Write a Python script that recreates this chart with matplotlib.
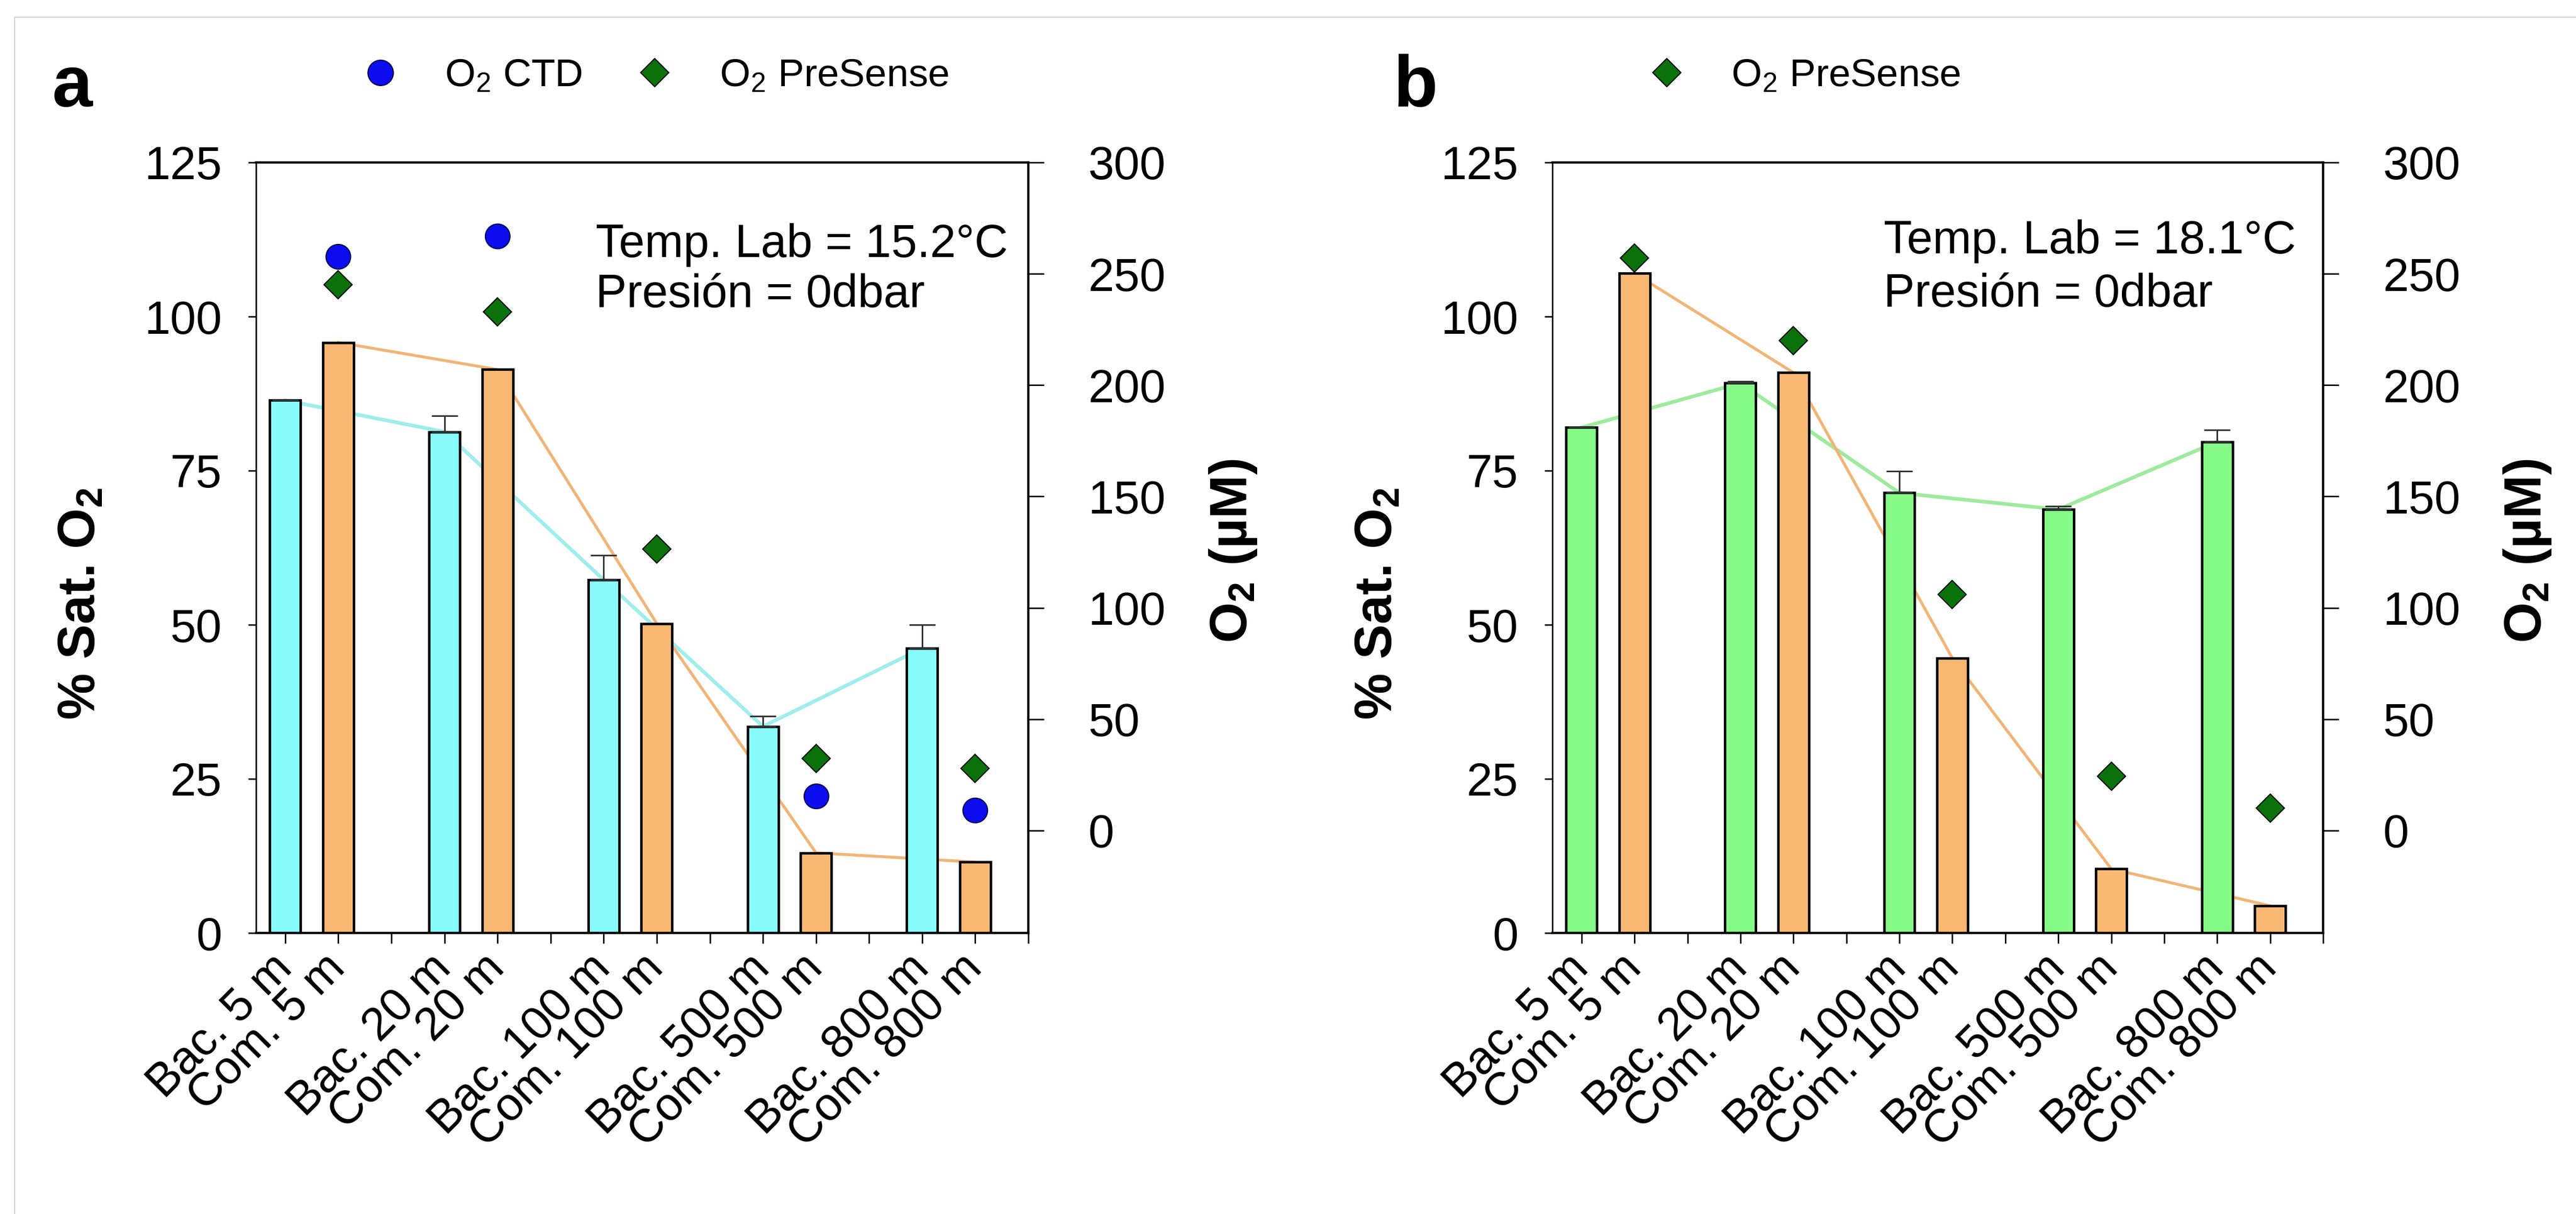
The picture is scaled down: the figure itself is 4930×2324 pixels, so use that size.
import numpy as np
import matplotlib
matplotlib.use('Agg')
import matplotlib.pyplot as plt
from matplotlib.lines import Line2D

plt.rcParams['font.family'] = ['Liberation Sans', 'DejaVu Sans']
plt.rcParams['mathtext.fontset'] = 'custom'
plt.rcParams['mathtext.rm'] = 'Liberation Sans'
plt.rcParams['mathtext.bf'] = 'Liberation Sans:bold'
plt.rcParams['mathtext.default'] = 'regular'

# ---------------- data ----------------
depths = ['5 m', '20 m', '100 m', '500 m', '800 m']
bac_labels = ['Bac. ' + d for d in depths]
com_labels = ['Com. ' + d for d in depths]

# panel a (% saturation, left axis)
a_bac = [86.4, 81.3, 57.3, 33.5, 46.2]
a_bac_err = [0.0, 2.6, 4.0, 1.7, 3.8]
a_com = [95.8, 91.4, 50.2, 13.0, 11.5]
# panel a oxygen (uM, right axis)
a_ctd = [257.7, 267.0, np.nan, 15.5, 9.1]
a_presense = [245.0, 233.0, 126.4, 32.3, 28.0]

# panel b
b_bac = [82.0, 89.2, 71.4, 68.7, 79.7]
b_bac_err = [0.0, 0.3, 3.5, 0.5, 1.9]
b_com = [107.0, 90.9, 44.6, 10.4, 4.4]
b_presense = [257.0, 220.0, 106.0, 24.4, 10.0]

temp_a = ['Temp. Lab = 15.2°C', 'Presión = 0dbar']
temp_b = ['Temp. Lab = 18.1°C', 'Presión = 0dbar']

left_ticks = [0, 25, 50, 75, 100, 125]
right_ticks = [0, 50, 100, 150, 200, 250, 300]

# ---------------- style ----------------
CYAN = '#88FCFC'
CYAN_LINE = '#9FEDED'
ORANGE = '#F8B872'
ORANGE_LINE = '#F2B476'
GREEN = '#86FA86'
GREEN_LINE = '#9DEB9D'
BLUE = '#0C0CEE'
DGREEN = '#0B720B'

W, H = 4930, 2324
fig = plt.figure(figsize=(W / 100, H / 100), dpi=100)

TICK_FS = 64
LABEL_FS = 72


def draw_panel(rect, bac, bac_err, com, bac_fc, bac_lc, texts, text_x, text_y,
               presense, ctd=None):
    ax = fig.add_axes(rect)
    n = len(bac)
    xb = np.arange(n) * 3
    xc = xb + 1

    ax.plot(xb, bac, color=bac_lc, lw=5.0, zorder=1)
    ax.plot(xc, com, color=ORANGE_LINE, lw=4.0, zorder=1)
    ax.bar(xb, bac, width=0.58, color=bac_fc, edgecolor='black', linewidth=3.4, zorder=2)
    ax.bar(xc, com, width=0.58, color=ORANGE, edgecolor='black', linewidth=3.4, zorder=2)
    ax.errorbar(xb, bac, yerr=[np.zeros(n), bac_err], fmt='none', ecolor='#333333',
                elinewidth=2.2, capsize=18, capthick=2.2, zorder=3)

    ax.set_xlim(-0.55, 14)
    ax.set_ylim(0, 125)
    ax.set_yticks(left_ticks)
    ax.set_xticks(np.arange(0, 15))
    labels = []
    for k in range(15):
        g, r = divmod(k, 3)
        if g < n and r == 0:
            labels.append(bac_labels[g])
        elif g < n and r == 1:
            labels.append(com_labels[g])
        else:
            labels.append('')
    ax.set_xticklabels(labels)
    for lab in ax.get_xticklabels():
        lab.set_rotation(45)
        lab.set_ha('right')
        lab.set_va('center')
        lab.set_rotation_mode('anchor')

    ax.tick_params(axis='y', direction='out', length=11, width=2.0, pad=36,
                   labelsize=TICK_FS)
    ax.tick_params(axis='x', direction='out', length=14.4, width=2.0, pad=25,
                   labelsize=TICK_FS)
    ax.spines['top'].set_linewidth(3.2)
    ax.spines['bottom'].set_linewidth(3.2)
    ax.spines['left'].set_linewidth(2.0)
    ax.spines['right'].set_visible(False)

    ax.text(text_x, text_y[0], texts[0], transform=ax.transAxes, fontsize=TICK_FS,
            va='baseline', ha='left')
    ax.text(text_x, text_y[1], texts[1], transform=ax.transAxes, fontsize=TICK_FS,
            va='baseline', ha='left')

    ax.text(-0.2267, 0.4275, '% Sat. O$_2$', transform=ax.transAxes, rotation=90,
            fontsize=LABEL_FS, fontweight='bold', ha='center', va='center')

    ax2 = ax.twinx()
    ax2.set_ylim(-46, 300)
    ax2.set_yticks(right_ticks)
    for s in ['top', 'bottom', 'left']:
        ax2.spines[s].set_visible(False)
    ax2.spines['right'].set_linewidth(3.2)
    ax2.tick_params(axis='y', direction='out', length=21.6, width=2.0, pad=61,
                    labelsize=TICK_FS)
    if ctd is not None:
        ax2.plot(xc, ctd, 'o', ls='none', ms=34, mfc=BLUE, mec='#000040', mew=1.5,
                 zorder=4)
    ax2.plot(xc, presense, 'D', ls='none', ms=28, mfc=DGREEN, mec='black', mew=1.5,
             zorder=4)
    ax2.text(1.265, 0.496, 'O$_2$ (µM)', transform=ax.transAxes, rotation=90,
             fontsize=LABEL_FS, fontweight='bold', ha='center', va='center')
    return ax, ax2


rect_a = [490 / W, 1 - 1786 / H, 1478 / W, 1475 / H]
rect_b = [2971 / W, 1 - 1786 / H, 1475 / W, 1475 / H]

draw_panel(rect_a, a_bac, a_bac_err, a_com, CYAN, CYAN_LINE, temp_a, 0.44,
           (0.877, 0.812), a_presense, ctd=a_ctd)
draw_panel(rect_b, b_bac, b_bac_err, b_com, GREEN, GREEN_LINE, temp_b, 0.43,
           (0.882, 0.813), b_presense)

# panel letters
fig.text(100 / W, 1 - 204 / H, 'a', fontsize=100, fontweight='bold', va='baseline')
fig.text(2667 / W, 1 - 204 / H, 'b', fontsize=100, fontweight='bold', va='baseline')

# legends
h_ctd = Line2D([], [], marker='o', ls='none', ms=35, mfc=BLUE, mec='#000040', mew=1.5)
h_pre = Line2D([], [], marker='D', ls='none', ms=28, mfc=DGREEN, mec='black', mew=1.5)
fig.legend([h_ctd, h_pre], ['O$_2$ CTD', 'O$_2$ PreSense'], loc='center left',
           bbox_to_anchor=(690 / W, 1 - 146 / H), ncol=2, frameon=False, fontsize=54,
           handlelength=1.0, handletextpad=1.15, columnspacing=1.35, borderpad=0,
           borderaxespad=0)
fig.legend([h_pre], ['O$_2$ PreSense'], loc='center left',
           bbox_to_anchor=(3152 / W, 1 - 146 / H), ncol=1, frameon=False, fontsize=54,
           handlelength=1.0, handletextpad=1.15, borderpad=0, borderaxespad=0)

# thin frame lines of the original image
fig.add_artist(Line2D([28 / W, 28 / W], [0, 1 - 33 / H], transform=fig.transFigure,
                      color='#d0d0d0', lw=1.5))
fig.add_artist(Line2D([28 / W, 1], [1 - 33 / H, 1 - 33 / H], transform=fig.transFigure,
                      color='#d0d0d0', lw=1.5))

fig.savefig('out.png', dpi=100)
